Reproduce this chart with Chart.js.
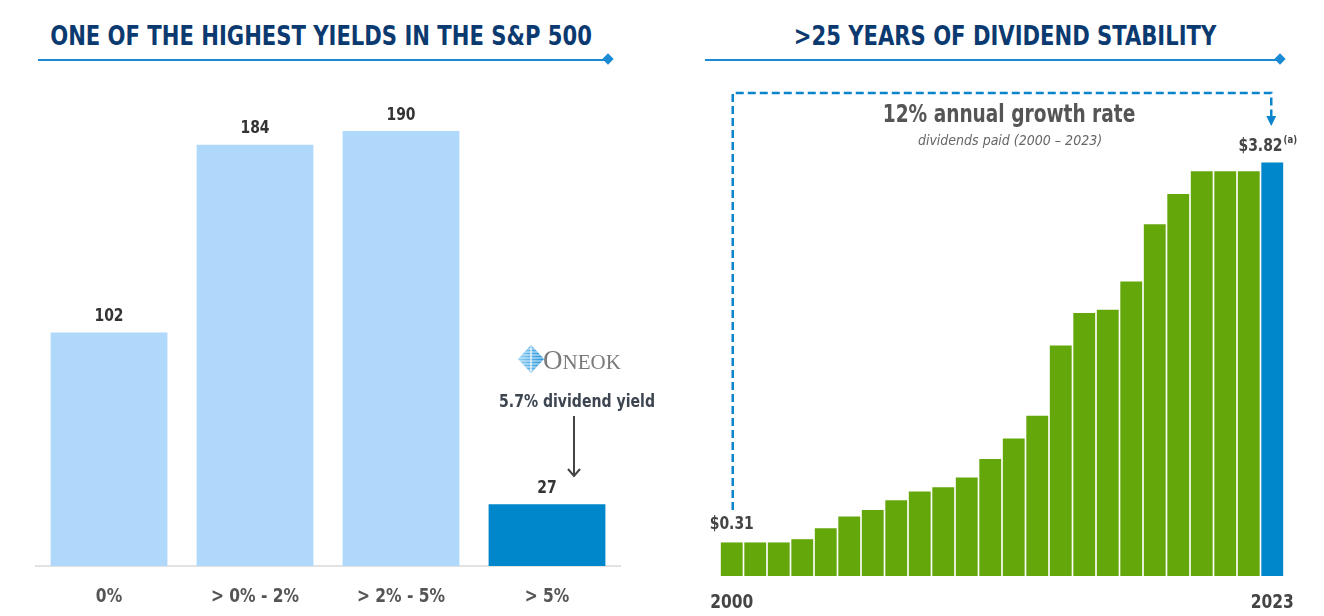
<!DOCTYPE html>
<html>
<head>
<meta charset="utf-8">
<script src="https://cdn.jsdelivr.net/npm/chart.js@4.4.1/dist/chart.umd.min.js"></script>
<style>
  body { margin: 0; background: #fff; width: 1324px; height: 616px; overflow: hidden; position: relative;
         font-family: "DejaVu Sans Condensed", "Liberation Sans", sans-serif; }
  canvas { position: absolute; top: 0; }
  .head { position: absolute; top: 35px; transform: translate(-50%, -50%) scaleX(0.87); white-space: nowrap;
          font-weight: bold; font-size: 27px; color: #0b3a70; }
  .rule { position: absolute; top: 59px; height: 2px; background: #1a8ad4; }
  .diamond { position: absolute; top: 55px; width: 8px; height: 8px; background: #1a8ad4; transform: rotate(45deg); }
  .txt { position: absolute; transform: translate(-50%, -50%); white-space: nowrap; }
</style>
</head>
<body>
<div class="head" style="left:321px">ONE OF THE HIGHEST YIELDS IN THE S&amp;P 500</div>
<div class="rule" style="left:38px; width:570px"></div>
<div class="diamond" style="left:604px"></div>
<div class="head" style="left:1005px">&gt;25 YEARS OF DIVIDEND STABILITY</div>
<div class="rule" style="left:705px; width:575px"></div>
<div class="diamond" style="left:1276px"></div>

<canvas id="yieldChart" width="660" height="616" style="left:0"></canvas>
<canvas id="dividendChart" width="664" height="616" style="left:660px"></canvas>

<div class="txt" style="left:1009px; top:114px; font-weight:bold; font-size:24px; color:#555; transform:translate(-50%,-50%) scaleX(0.86)">12% annual growth rate</div>
<div class="txt" style="left:1010px; top:140px; font-style:italic; font-size:14px; color:#666">dividends paid (2000 – 2023)</div>

<svg style="position:absolute; left:518px; top:345px" width="26" height="28" viewBox="0 0 26 28">
  <defs>
    <linearGradient id="g" x1="0" x2="1">
      <stop offset="0" stop-color="#8fd0f5"/><stop offset="1" stop-color="#1f8fd8"/>
    </linearGradient>
    <clipPath id="d"><polygon points="13,0 26,14 13,28 0,14"/></clipPath>
  </defs>
  <g clip-path="url(#d)" fill="url(#g)">
    <rect x="0" y="0" width="26" height="28"/>
  </g>
  <g clip-path="url(#d)" stroke="#fff" stroke-width="0.8">
    <line x1="0" y1="4" x2="26" y2="4"/><line x1="0" y1="7" x2="26" y2="7"/><line x1="0" y1="10" x2="26" y2="10"/>
    <line x1="0" y1="13" x2="26" y2="13"/><line x1="0" y1="16" x2="26" y2="16"/><line x1="0" y1="19" x2="26" y2="19"/>
    <line x1="0" y1="22" x2="26" y2="22"/><line x1="0" y1="25" x2="26" y2="25"/>
    <line x1="13" y1="0" x2="13" y2="28" stroke-width="1.2"/>
  </g>
</svg>
<div class="txt" style="left:582px; top:360px; font-family:'Liberation Serif','DejaVu Serif',serif; color:#7a7a7a">
  <span style="font-size:27px">O</span><span style="font-size:21px">NEOK</span></div>
<div class="txt" style="left:577px; top:400px; font-weight:bold; font-size:18px; color:#3d4550; transform:translate(-50%,-50%) scaleX(0.87)">5.7% dividend yield</div>
<svg style="position:absolute; left:564px; top:414px" width="20" height="66">
  <line x1="10" y1="2" x2="10" y2="62" stroke="#444" stroke-width="2"/>
  <polyline points="4,55 10,62 16,55" fill="none" stroke="#444" stroke-width="2"/>
</svg>

<script>
// left chart: number of S&P 500 companies by dividend yield
const yieldCategories = ['0%', '> 0% - 2%', '> 2% - 5%', '> 5%'];
const yieldCounts = [102, 184, 190, 27];
const yieldColors = ['#b0d8fb', '#b0d8fb', '#b0d8fb', '#0086ca'];

// right chart: dividends paid per share
const dividendYears = ['2000', '2001', '2002', '2003', '2004', '2005', '2006', '2007', '2008', '2009', '2010', '2011',
                       '2012', '2013', '2014', '2015', '2016', '2017', '2018', '2019', '2020', '2021', '2022', '2023'];
const dividendsPaid = [0.31, 0.31, 0.31, 0.34, 0.44, 0.55, 0.61, 0.70, 0.78, 0.82, 0.91, 1.08,
                       1.27, 1.48, 2.13, 2.43, 2.46, 2.72, 3.25, 3.53, 3.74, 3.74, 3.74, 3.82];
const dividendShownYears = ['2000', '2023'];

var narrow = '"DejaVu Sans Condensed", "Liberation Sans", sans-serif';

// canvas text squeezed horizontally, the source uses a narrow face
function narrowText( ctx, text, x, y, align, sx )
{
    sx = sx || 0.86;
    var w = ctx.measureText(text).width * sx;
    var left = align === 'center' ? x - w / 2 : (align === 'right' ? x - w : x);
    ctx.save();
    ctx.textAlign = 'left';
    ctx.translate(left, y);
    ctx.scale(sx, 1);
    ctx.fillText(text, 0, 0);
    ctx.restore();
    return w;
}

// x labels drawn from the category scale
function drawXLabels( chart, labels, color, y )
{
    var ctx = chart.ctx, xs = chart.scales.x;
    ctx.save();
    ctx.font = 'bold 20px ' + narrow;
    ctx.fillStyle = color;
    ctx.textBaseline = 'middle';
    labels.forEach(function(l, i) {
        if (l) narrowText(ctx, l, xs.getPixelForValue(i), y, 'center');
    });
    ctx.restore();
}

var yieldLabels = {
    id: 'yieldLabels',
    afterDatasetsDraw: function( chart ) {
        var ctx = chart.ctx;
        ctx.save();
        ctx.font = 'bold 18px ' + narrow;
        ctx.fillStyle = '#333';
        ctx.textBaseline = 'middle';
        chart.getDatasetMeta(0).data.forEach(function(bar, i) {
            narrowText(ctx, String(yieldCounts[i]), bar.x, bar.y - 16, 'center');
        });
        ctx.restore();
        drawXLabels(chart, yieldCategories, '#555', chart.chartArea.bottom + 31);
    }
};

var dividendLabels = {
    id: 'dividendLabels',
    afterDatasetsDraw: function( chart ) {
        var ctx = chart.ctx;
        var bars = chart.getDatasetMeta(0).data;
        var first = bars[0], last = bars[bars.length - 1];
        ctx.save();
        ctx.fillStyle = '#444';
        ctx.textBaseline = 'middle';
        ctx.font = 'bold 18px ' + narrow;
        narrowText(ctx, '$' + dividendsPaid[0].toFixed(2), first.x, first.y - 18, 'center');

        var main = '$' + dividendsPaid[dividendsPaid.length - 1].toFixed(2);
        var w1 = ctx.measureText(main).width * 0.86;
        ctx.font = 'bold 11px ' + narrow;
        var w2 = ctx.measureText('(a)').width * 0.86;
        var x0 = last.x - 5 - (w1 + w2) / 2;
        ctx.font = 'bold 18px ' + narrow;
        narrowText(ctx, main, x0, last.y - 16, 'left');
        ctx.font = 'bold 11px ' + narrow;
        narrowText(ctx, '(a)', x0 + w1 + 1, last.y - 22, 'left');

        // dashed bracket from first to last bar
        ctx.strokeStyle = '#0a84cc';
        ctx.lineWidth = 2.5;
        ctx.setLineDash([8, 4]);
        ctx.beginPath();
        ctx.moveTo(first.x + 1, 510);
        ctx.lineTo(first.x + 1, 93);
        ctx.lineTo(last.x - 1, 93);
        ctx.lineTo(last.x - 1, 116);
        ctx.stroke();
        ctx.setLineDash([]);
        ctx.fillStyle = '#0a84cc';
        ctx.beginPath();
        ctx.moveTo(last.x - 6, 116);
        ctx.lineTo(last.x + 4, 116);
        ctx.lineTo(last.x - 1, 126);
        ctx.closePath();
        ctx.fill();
        ctx.restore();

        drawXLabels(chart, dividendYears.map(function(y) { return dividendShownYears.indexOf(y) >= 0 ? y : ''; }),
                    '#444', chart.chartArea.bottom + 27);
    }
};

new Chart(document.getElementById('yieldChart').getContext('2d'), {
    type: 'bar',
    data: {
        labels: yieldCategories,
        datasets: [ { data: yieldCounts, backgroundColor: yieldColors, barPercentage: 0.8, categoryPercentage: 1 } ]
    },
    options: {
        responsive: false,
        animation: false,
        layout: { padding: { top: 108, left: 36, right: 40, bottom: 0 } },
        plugins: { legend: { display: false }, tooltip: { enabled: false } },
        scales: {
            y: { display: false, min: 0, max: 200 },
            x: {
                grid: { display: false, drawTicks: false },
                border: { display: true, color: '#e2e2e2', width: 2 },
                ticks: { display: false },
                afterFit: function(axis) { axis.height = 50; }
            }
        }
    },
    plugins: [yieldLabels]
});

new Chart(document.getElementById('dividendChart').getContext('2d'), {
    type: 'bar',
    data: {
        labels: dividendYears,
        datasets: [ {
            data: dividendsPaid,
            backgroundColor: dividendYears.map(function(y, i) { return i === dividendYears.length - 1 ? '#0086ca' : '#64a70b'; }),
            barPercentage: 0.93,
            categoryPercentage: 1
        } ]
    },
    options: {
        responsive: false,
        animation: false,
        layout: { padding: { top: 143, left: 60, right: 40, bottom: 0 } },
        plugins: { legend: { display: false }, tooltip: { enabled: false } },
        scales: {
            y: { display: false, min: 0, max: 4 },
            x: {
                grid: { display: false, drawTicks: false },
                border: { display: false },
                ticks: { display: false },
                afterFit: function(axis) { axis.height = 40; }
            }
        }
    },
    plugins: [dividendLabels]
});
</script>
</body>
</html>
